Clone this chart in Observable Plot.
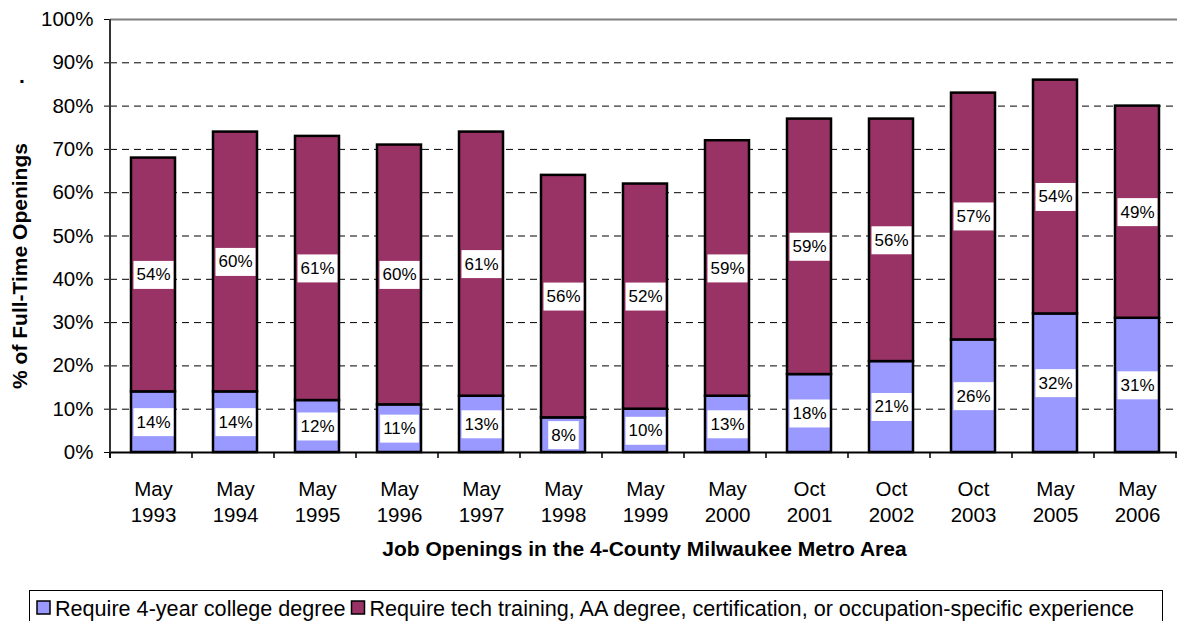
<!DOCTYPE html>
<html>
<head>
<meta charset="utf-8">
<script src="https://cdn.jsdelivr.net/npm/d3@7"></script>
<script src="https://cdn.jsdelivr.net/npm/@observablehq/plot@0.6"></script>
<style>
  html, body { margin: 0; padding: 0; background: #fff; overflow: hidden; }
  #chart { width: 1177px; height: 621px; overflow: hidden; }
</style>
</head>
<body>
<div id="chart"></div>
<script>
const categories = ["May 1993","May 1994","May 1995","May 1996","May 1997","May 1998","May 1999","May 2000","Oct 2001","Oct 2002","Oct 2003","May 2005","May 2006"];
const collegeValues = [14,14,12,11,13,8,10,13,18,21,26,32,31];
const techValues = [54,60,61,60,61,56,52,59,59,56,57,54,49];
const seriesNames = ["Require 4-year college degree","Require tech training, AA degree, certification, or occupation-specific experience"];
const seriesColors = ["#9999FF","#993366"];
const yTicks = [0,10,20,30,40,50,60,70,80,90,100];
const gridTicks = [10,20,30,40,50,60,70,80,90];
const yTitle = "% of Full-Time Openings";
const xTitle = "Job Openings in the 4-County Milwaukee Metro Area";

const rows = categories.flatMap((c, i) => [
  {cat: c, series: seriesNames[0], value: collegeValues[i]},
  {cat: c, series: seriesNames[1], value: techValues[i]}
]);

const FONT = "'Liberation Sans', Arial, sans-serif";

const plot = Plot.plot({
  width: 1177,
  height: 621,
  marginTop: 19,
  marginBottom: 169,
  marginLeft: 110,
  marginRight: -2,
  style: {fontFamily: FONT, fontSize: "20.5px", color: "#000", background: "#fff", overflow: "hidden"},
  x: {domain: categories, paddingInner: 0.465, paddingOuter: 0.2325, label: null},
  y: {domain: [0, 100], label: null},
  color: {domain: seriesNames, range: seriesColors},
  marks: [
    Plot.gridY(gridTicks, {stroke: "#000", strokeOpacity: 1, strokeWidth: 1, strokeDasharray: "7,5"}),
    Plot.ruleY([100], {stroke: "#808080", strokeWidth: 2}),
    Plot.barY(rows, {x: "cat", y: "value", z: "series", fill: "series", order: seriesNames, stroke: "#000", strokeWidth: 2.5}),
    Plot.ruleY([0], {stroke: "#000", strokeWidth: 2}),
    Plot.axisY({ticks: yTicks, tickFormat: d => d + "%", tickSize: 6, tickPadding: 11, fontSize: 20.5, label: null, stroke: "#000"}),
    Plot.axisX({tickSize: 0, tickPadding: 25, fontSize: 20.5, lineHeight: 1.27, label: null, tickFormat: d => d.replace(" ", "\n")}),
    Plot.text(rows, Plot.stackY({x: "cat", y: "value", z: "series", order: seriesNames, text: d => d.value + "%", fontSize: 17, fill: "#000", className: "vlabel"}))
  ]
});

const container = document.getElementById("chart");
container.appendChild(plot);

const ns = "http://www.w3.org/2000/svg";
const svg = d3.select(plot);
const xs = plot.scale("x");
const ys = plot.scale("y");
const x0 = xs.range[0];
const yBase = ys.apply(0);
const yTop = ys.apply(100);

// white boxes behind value labels
plot.querySelectorAll("g.vlabel text").forEach(t => {
  const b = t.getBBox();
  const r = document.createElementNS(ns, "rect");
  r.setAttribute("x", b.x - 3);
  r.setAttribute("y", b.y - 4.5);
  r.setAttribute("width", b.width + 6);
  r.setAttribute("height", b.height + 9);
  r.setAttribute("fill", "#fff");
  const tr = t.getAttribute("transform");
  if (tr) r.setAttribute("transform", tr);
  t.parentNode.insertBefore(r, t);
});

// left axis line
svg.append("line").attr("x1", x0).attr("x2", x0).attr("y1", yTop).attr("y2", yBase + 6)
  .attr("stroke", "#333").attr("stroke-width", 2);

// category boundary ticks
for (let i = 0; i <= categories.length; i++) {
  const xx = x0 + i * xs.step;
  svg.append("line").attr("x1", xx).attr("x2", xx).attr("y1", yBase).attr("y2", yBase + 6)
    .attr("stroke", "#000").attr("stroke-width", 1.5);
}

// axis titles
svg.append("text").attr("x", (xs.range[0] + xs.range[1]) / 2).attr("y", 556)
  .attr("text-anchor", "middle").attr("font-weight", "bold").attr("font-size", 21)
  .attr("font-family", FONT).attr("fill", "#000").text(xTitle);

svg.append("text").attr("transform", "translate(27,266) rotate(-90)")
  .attr("text-anchor", "middle").attr("font-weight", "bold").attr("font-size", 21)
  .attr("font-family", FONT).attr("fill", "#000").text(yTitle);

svg.append("text").attr("x", 22).attr("y", 83).attr("text-anchor", "middle")
  .attr("font-weight", "bold").attr("font-size", 21).attr("font-family", FONT).attr("fill", "#000").text(".");

// legend
const lg = svg.append("g").attr("text-anchor", "start");
lg.append("rect").attr("x", 29.5).attr("y", 590.5).attr("width", 1133).attr("height", 50)
  .attr("fill", "#fff").attr("stroke", "#000").attr("stroke-width", 1);
let lx = 37;
seriesNames.forEach((name, i) => {
  lg.append("rect").attr("x", lx).attr("y", 601).attr("width", 13).attr("height", 13)
    .attr("fill", seriesColors[i]).attr("stroke", "#000").attr("stroke-width", 1.5);
  const t = lg.append("text").attr("x", lx + 18).attr("y", 615.5).attr("font-size", 21.6)
    .attr("text-anchor", "start").attr("font-family", FONT).attr("fill", "#000").text(name);
  lx = lx + 18 + t.node().getComputedTextLength() + 6;
});
</script>
</body>
</html>
